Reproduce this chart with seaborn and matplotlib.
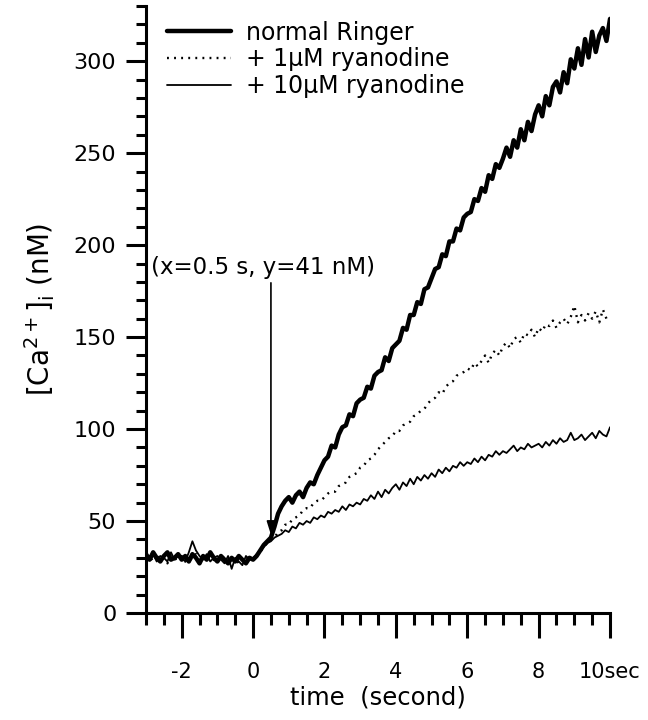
import numpy as np
import pandas as pd
import matplotlib
matplotlib.use("Agg")
import matplotlib.pyplot as plt
import seaborn as sns

# sampling grid of the recording (s)
time_s = np.round(np.arange(-3.0, 10.05, 0.1), 1)

# [Ca2+]i traces (nM), one value per 0.1 s
normal_ringer = [
    32, 29, 33, 30, 28, 31, 33, 29, 30, 32,
    29, 31, 28, 32, 30, 27, 31, 29, 33, 30,
    28, 31, 29, 27, 30, 28, 31, 29, 27, 30,
    29, 31, 34, 37, 39, 41, 47, 54, 58, 61,
    63, 60, 64, 66, 63, 68, 71, 70, 75, 79,
    83, 85, 91, 90, 97, 101, 102, 108, 107, 114,
    116, 117, 123, 122, 129, 131, 132, 139, 137, 144,
    146, 148, 155, 154, 162, 162, 169, 168, 176, 177,
    182, 187, 188, 195, 194, 202, 202, 209, 208, 215,
    217, 218, 225, 224, 231, 229, 238, 236, 244, 242,
    247, 253, 248, 257, 253, 263, 257, 267, 262, 271,
    276, 270, 281, 276, 286, 289, 283, 294, 288, 301,
    296, 307, 298, 312, 302, 316, 305, 314, 318, 311, 323,
]
ryanodine_1um = [
    30, 31, 28, 32, 29, 30, 27, 31, 29, 30,
    31, 28, 30, 29, 32, 28, 30, 31, 28, 29,
    30, 28, 31, 29, 28, 30, 27, 29, 31, 28,
    30, 31, 33, 36, 38, 40, 41, 44, 45, 48,
    48, 51, 52, 53, 56, 57, 57, 60, 61, 61,
    63, 65, 66, 66, 69, 70, 71, 74, 75, 76,
    79, 80, 83, 84, 86, 89, 91, 93, 95, 96,
    99, 99, 102, 103, 104, 107, 108, 110, 111, 114,
    116, 117, 120, 119, 123, 125, 126, 129, 130, 131,
    133, 132, 136, 134, 137, 140, 136, 141, 143, 140,
    145, 147, 144, 149, 150, 147, 152, 151, 154, 150,
    155, 153, 157, 156, 159, 155, 158, 160, 157, 161,
    167, 158, 162, 159, 163, 160, 164, 158, 165, 160, 161,
]
ryanodine_10um = [
    31, 29, 32, 28, 31, 30, 28, 33, 29, 31,
    30, 28, 33, 39, 34, 31, 29, 32, 28, 30,
    31, 29, 27, 31, 24, 30, 28, 26, 31, 29,
    30, 32, 34, 36, 38, 39, 41, 42, 43, 45,
    44, 47, 46, 49, 48, 50, 49, 52, 51, 53,
    52, 55, 54, 56, 55, 58, 56, 59, 58, 60,
    59, 62, 61, 64, 62, 66, 63, 67, 65, 68,
    70, 67, 71, 69, 73, 70, 74, 72, 75, 73,
    76, 74, 78, 76, 79, 77, 80, 79, 82, 80,
    82, 81, 84, 82, 85, 83, 86, 85, 88, 86,
    88, 87, 89, 91, 88, 90, 89, 92, 90, 91,
    92, 90, 93, 91, 94, 92, 95, 93, 94, 98,
    94, 95, 97, 94, 96, 98, 95, 99, 97, 96, 101,
]

series_labels = ["normal Ringer", "+ 1\u03bcM ryanodine", "+ 10\u03bcM ryanodine"]
x_ticks = [-2, 0, 2, 4, 6, 8, 10]
x_tick_labels = ["-2", "0", "2", "4", "6", "8", "10sec"]
y_ticks = [0, 50, 100, 150, 200, 250, 300]

df = pd.DataFrame({
    "time": np.concatenate([time_s] * 3),
    "ca": normal_ringer + ryanodine_1um + ryanodine_10um,
    "cond": np.repeat(series_labels, len(time_s)),
})

sns.set_style("ticks")
plt.rcParams["font.family"] = ["DejaVu Sans"]
for key in ["text.color", "axes.labelcolor", "xtick.color", "ytick.color", "axes.edgecolor"]:
    plt.rcParams[key] = "black"

fig = plt.figure(figsize=(6.48, 7.2), dpi=100)
ax = fig.add_axes([0.2253, 0.1486, 0.9414 - 0.2253, 0.9917 - 0.1486])

styles = {
    series_labels[0]: dict(lw=3.2, ls="-"),
    series_labels[1]: dict(lw=1.7, ls=(0, (0.8, 2.2))),
    series_labels[2]: dict(lw=1.3, ls="-"),
}
for lab in series_labels:
    sns.lineplot(data=df[df["cond"] == lab], x="time", y="ca", ax=ax,
                 color="black", label=lab, linewidth=styles[lab]["lw"],
                 linestyle=styles[lab]["ls"], errorbar=None)

ax.set_xlim(-3, 10)
ax.set_ylim(0, 330)
ax.set_xticks(x_ticks)
ax.set_xticklabels(x_tick_labels)
ax.set_xticks(np.arange(-3, 10.01, 0.5), minor=True)
ax.set_yticks(y_ticks)
ax.set_yticks(np.arange(0, 331, 10), minor=True)

for side in ["top", "right"]:
    ax.spines[side].set_visible(False)
for side in ["left", "bottom"]:
    ax.spines[side].set_linewidth(2.2)

ax.tick_params(axis="x", which="major", length=18, width=2.2, pad=17, labelsize=15)
ax.tick_params(axis="x", which="minor", length=8.6, width=2.2)
ax.tick_params(axis="y", which="major", length=14.4, width=2.2, pad=7, labelsize=16)
ax.tick_params(axis="y", which="minor", length=7.2, width=2.2)

ax.set_xlabel("time  (second)", fontsize=17.5, labelpad=3)
ax.set_ylabel(r"$\mathregular{[Ca^{2+}]_i}$ (nM)", fontsize=20, labelpad=12)

ax.annotate("", xy=(0.5, 41), xytext=(0.5, 181),
            arrowprops=dict(arrowstyle="-|>,head_length=0.8,head_width=0.25",
                            lw=1.2, color="black"))
ax.text(-2.85, 188, "(x=0.5 s, y=41 nM)", fontsize=16.5, va="center", ha="left")

leg = ax.legend(loc="upper left", bbox_to_anchor=(0.045, 0.976), frameon=False,
                fontsize=17, handlelength=2.7, handletextpad=0.65,
                labelspacing=0.12, borderpad=0, borderaxespad=0)

fig.savefig("out.png", dpi=100)
